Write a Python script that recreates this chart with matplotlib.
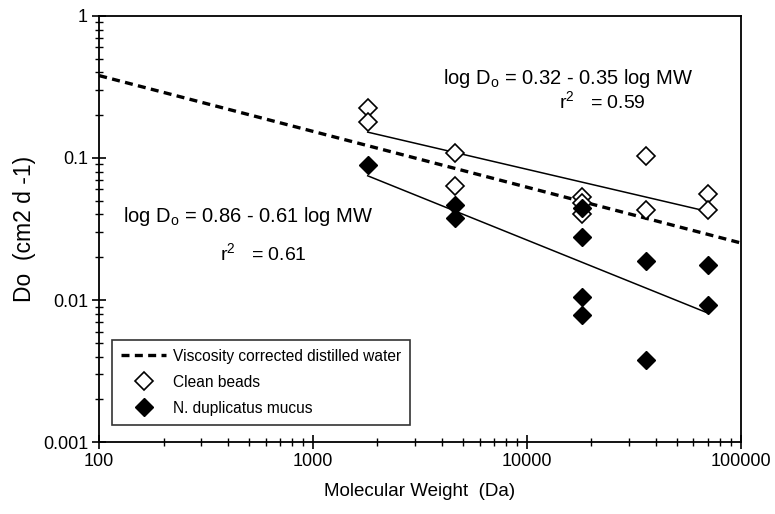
import matplotlib
matplotlib.use("Agg")
import matplotlib.pyplot as plt

plt.rcParams["font.family"] = ["Liberation Sans", "DejaVu Sans"]
plt.rcParams["mathtext.fontset"] = "custom"
plt.rcParams["mathtext.rm"] = "Liberation Sans"
plt.rcParams["mathtext.it"] = "Liberation Sans"

# データ
clean_mw = [1800, 1800, 4600, 4600, 18000, 18000, 18000, 36000, 36000, 70000, 70000]
clean_do = [0.225, 0.179, 0.108, 0.0635, 0.053, 0.048, 0.040, 0.103, 0.043, 0.0557, 0.043]

mucus_mw = [1800, 4600, 4600, 18000, 18000, 18000, 18000, 36000, 36000, 70000, 70000]
mucus_do = [0.089, 0.0467, 0.0378, 0.0445, 0.0278, 0.0105, 0.0079, 0.0188, 0.0038, 0.0176, 0.0092]

# 回帰線・水の線（端点）
clean_fit_mw = [1800, 70000]
clean_fit_do = [0.152, 0.042]
mucus_fit_mw = [1800, 70000]
mucus_fit_do = [0.0749, 0.0081]
water_mw = [100, 100000]
water_do = [0.38, 0.0252]

fig = plt.figure(figsize=(7.75, 5.14), dpi=100)
ax = fig.add_axes([0.128, 0.140, 0.828, 0.829])

ax.plot(water_mw, water_do, color="black", lw=2.4, linestyle=(0, (2.4, 1.6)),
        label="Viscosity corrected distilled water", zorder=2)
ax.plot(clean_fit_mw, clean_fit_do, color="black", lw=1.1, zorder=1)
ax.plot(mucus_fit_mw, mucus_fit_do, color="black", lw=1.1, zorder=1)
ax.plot(clean_mw, clean_do, linestyle="none", marker="D", ms=9.2, mfc="white",
        mec="black", mew=1.2, label="Clean beads", zorder=3)
ax.plot(mucus_mw, mucus_do, linestyle="none", marker="D", ms=9.2, mfc="black",
        mec="black", mew=1.0, label="N. duplicatus mucus", zorder=4)

ax.set_xscale("log")
ax.set_yscale("log")
ax.set_xlim(100, 100000)
ax.set_ylim(0.001, 1)
ax.set_xticks([100, 1000, 10000, 100000])
ax.set_xticklabels(["100", "1000", "10000", "100000"])
ax.set_yticks([0.001, 0.01, 0.1, 1])
ax.set_yticklabels(["0.001", "0.01", "0.1", "1"])

ax.tick_params(which="major", direction="inout", length=10, width=1.2, labelsize=13,
               top=False, right=False, pad=3)
ax.tick_params(which="minor", direction="inout", length=6, width=1.0,
               top=False, right=False)
for s in ax.spines.values():
    s.set_linewidth(1.3)

ax.set_xlabel("Molecular Weight  (Da)", fontsize=13.5, labelpad=9)
ax.set_ylabel("Do  (cm2 d -1)", fontsize=16.5, labelpad=5)

# 回帰式
ax.text(0.536, 0.854, r"log D$_{\rm o}$ = 0.32 - 0.35 log MW", transform=ax.transAxes,
        fontsize=14.5, va="center", ha="left")
ax.text(0.717, 0.80, r"r$^{\rm 2}$   = 0.59", transform=ax.transAxes,
        fontsize=14, va="center", ha="left")
ax.text(0.037, 0.53, r"log D$_{\rm o}$ = 0.86 - 0.61 log MW", transform=ax.transAxes,
        fontsize=14.5, va="center", ha="left")
ax.text(0.188, 0.444, r"r$^{\rm 2}$   = 0.61", transform=ax.transAxes,
        fontsize=14, va="center", ha="left")

leg = ax.legend(loc="lower left", bbox_to_anchor=(0.02, 0.04), borderaxespad=0,
                fontsize=11.2, frameon=True, fancybox=False, handlelength=2.9,
                handletextpad=0.4, labelspacing=0.7, borderpad=0.6)
leg.get_frame().set_edgecolor("black")
leg.get_frame().set_linewidth(1.2)

plt.savefig("out.png", dpi=100)
plt.close()
